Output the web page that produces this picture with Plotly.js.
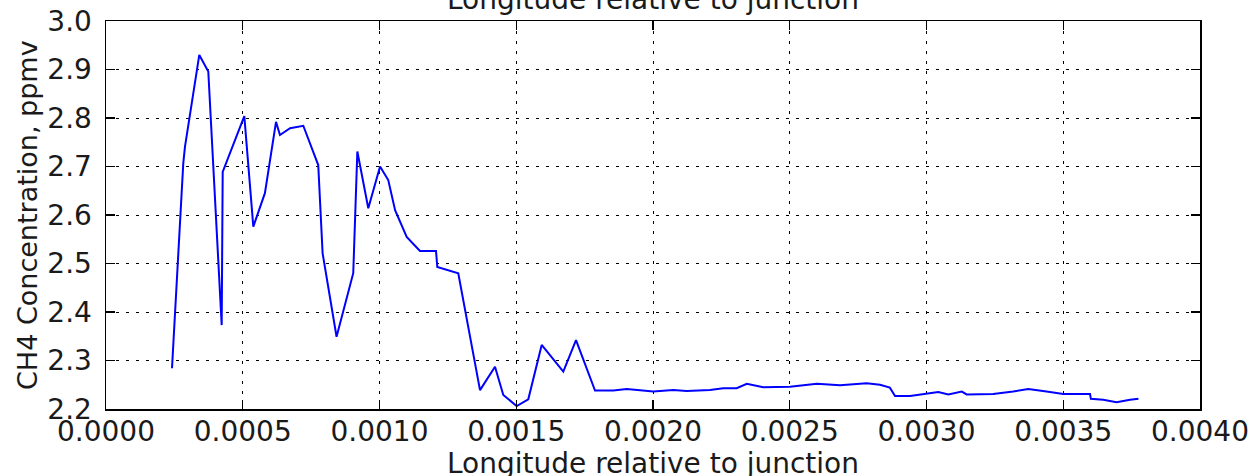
<!DOCTYPE html>
<html>
<head>
<meta charset="utf-8">
<script src="https://cdn.plot.ly/plotly-3.0.1.min.js"></script>
<style>
  html, body { margin: 0; padding: 0; background: #ffffff; }
  #chart { width: 1249px; height: 476px; }
</style>
</head>
<body>
<div id="chart"></div>
<script>
// Longitude offset from the junction (degrees)
const longitudeOffset = [
  0.0002413, 0.0002826, 0.0002888, 0.0003411, 0.0003740, 0.0004230, 0.0004267,
  0.0005057, 0.0005386, 0.0005810, 0.0006216, 0.0006360, 0.0006730, 0.0007214,
  0.0007760, 0.0007920, 0.0008430, 0.0009040, 0.0009190, 0.0009590, 0.0010020,
  0.0010320, 0.0010570, 0.0010994, 0.0011480, 0.0012066, 0.0012113, 0.0012880,
  0.0013675, 0.0014223, 0.0014527, 0.0015016, 0.0015440, 0.0015930, 0.0016720,
  0.0017185, 0.0017880, 0.0018550, 0.0019040, 0.0020010, 0.0020740, 0.0021230,
  0.0022080, 0.0022570, 0.0023060, 0.0023430, 0.0024030, 0.0025010, 0.0025990,
  0.0026840, 0.0027810, 0.0028300, 0.0028660, 0.0028850, 0.0029400, 0.0030010,
  0.0030430, 0.0030800, 0.0031290, 0.0031470, 0.0032440, 0.0033170, 0.0033720,
  0.0034390, 0.0035000, 0.0035980, 0.0036010, 0.0036460, 0.0036950, 0.0037440,
  0.0037750
];

// Methane mixing ratio (ppmv)
const ch4Ppmv = [
  2.284, 2.707, 2.741, 2.930, 2.896, 2.373, 2.689,
  2.804, 2.576, 2.645, 2.792, 2.765, 2.779, 2.784,
  2.703, 2.521, 2.349, 2.480, 2.731, 2.614, 2.700,
  2.672, 2.610, 2.555, 2.526, 2.526, 2.493, 2.480,
  2.239, 2.287, 2.229, 2.206, 2.220, 2.332, 2.277,
  2.342, 2.238, 2.238, 2.241, 2.236, 2.239, 2.237,
  2.239, 2.243, 2.243, 2.252, 2.245, 2.246, 2.252,
  2.249, 2.253, 2.250, 2.244, 2.227, 2.227, 2.232,
  2.235, 2.230, 2.236, 2.230, 2.231, 2.236, 2.241,
  2.236, 2.231, 2.231, 2.221, 2.219, 2.214, 2.219,
  2.221
];

const xTickVals = [0, 0.0005, 0.001, 0.0015, 0.002, 0.0025, 0.003, 0.0035, 0.004];
const yTickVals = [2.2, 2.3, 2.4, 2.5, 2.6, 2.7, 2.8, 2.9, 3.0];

const axisTitle = 'Longitude relative to junction';
const yTitle = 'CH4 Concentration, ppmv';

const tickFont = { family: 'DejaVu Sans, sans-serif', size: 28, color: '#1a1a1a' };
const titleFont = { family: 'DejaVu Sans, sans-serif', size: 28, color: '#1a1a1a' };
const yTitleFont = { family: 'DejaVu Sans, sans-serif', size: 27, color: '#1a1a1a' };

const trace = {
  x: longitudeOffset,
  y: ch4Ppmv,
  type: 'scatter',
  mode: 'lines',
  line: { color: '#0000ff', width: 2 },
  hoverinfo: 'x+y'
};

const commonAxis = {
  showline: true,
  linecolor: '#000000',
  linewidth: 1.5,
  mirror: 'ticks',
  ticks: 'inside',
  ticklen: 9,
  tickwidth: 1.2,
  tickcolor: '#000000',
  showgrid: true,
  gridcolor: '#000000',
  gridwidth: 1,
  griddash: '3px,7px',
  zeroline: false,
  tickfont: tickFont
};

const plotLeft = 106, plotWidth = 1094, plotHeight = 388;

const layout = {
  width: 1249,
  height: 476,
  margin: { l: 106, r: 49, t: 21, b: 67 },
  paper_bgcolor: '#ffffff',
  plot_bgcolor: '#ffffff',
  showlegend: false,
  font: titleFont,
  title: {
    text: axisTitle,
    font: titleFont,
    x: (plotLeft + plotWidth / 2) / 1249,
    xanchor: 'center',
    y: 1 - 9 / 476,
    yref: 'container',
    yanchor: 'bottom'
  },
  xaxis: Object.assign({}, commonAxis, {
    range: [0, 0.004],
    tickvals: xTickVals,
    tickformat: '.4f',
    ticklabelstandoff: -3
  }),
  yaxis: Object.assign({}, commonAxis, {
    range: [2.2, 3.0],
    tickvals: yTickVals,
    tickformat: '.1f',
    ticklabelstandoff: 7
  }),
  annotations: [
    {
      text: axisTitle,
      xref: 'paper', yref: 'paper',
      x: 0.5, y: -36 / plotHeight,
      xanchor: 'center', yanchor: 'top',
      showarrow: false,
      font: titleFont
    },
    {
      text: yTitle,
      xref: 'paper', yref: 'paper',
      x: -79 / plotWidth, y: 0.5,
      xanchor: 'center', yanchor: 'middle',
      textangle: -90,
      showarrow: false,
      font: yTitleFont
    }
  ]
};

Plotly.newPlot('chart', [trace], layout, { displayModeBar: false, staticPlot: true });
</script>
</body>
</html>
